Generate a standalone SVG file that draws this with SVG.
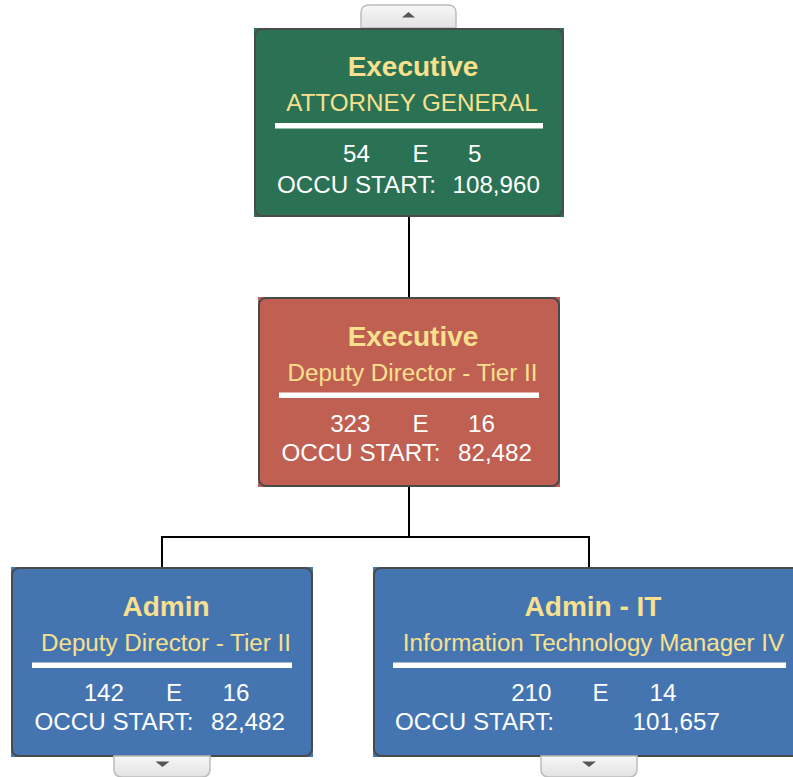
<svg xmlns="http://www.w3.org/2000/svg" width="793" height="777" viewBox="0 0 793 777">
<defs>
<linearGradient id="tabg" x1="0" y1="0" x2="0" y2="1">
<stop offset="0" stop-color="#f7f7f7"/>
<stop offset="1" stop-color="#e2e2e2"/>
</linearGradient>
</defs>
<style>
.border{fill:none;stroke:#4a4a4a;stroke-width:2}
.green{fill:#2a7253}
.red{fill:#c06053}
.blue{fill:#4575b0}
.title{font-family:"Liberation Sans",Arial,sans-serif;font-weight:bold;font-size:28px;fill:#f8e08e;text-anchor:middle}
.sub{font-family:"Liberation Sans",Arial,sans-serif;font-size:24.2px;fill:#f8e08e;text-anchor:middle}
.data{font-family:"Liberation Sans",Arial,sans-serif;font-size:24.2px;fill:#ffffff}
.end{text-anchor:end}
.rule{fill:#ffffff}
.tab{fill:url(#tabg);stroke:#bdbdbd;stroke-width:1.5}
.tri{fill:#555555}
.conn{fill:none;stroke:#000000;stroke-width:2}
</style>
<rect width="793" height="777" fill="#ffffff"/>
<g id="connectors">
<line class="conn" x1="409" y1="217" x2="409" y2="297"/>
<polyline class="conn" points="409,487 409,537 162,537 162,567"/>
<polyline class="conn" points="409,537 589,537 589,567"/>
</g>
<g id="tab-top">
<path class="tab" d="M361,28 L361,13 Q361,5 369,5 L448,5 Q456,5 456,13 L456,28 Z"/>
<polygon class="tri" points="402,17.5 415,17.5 408.5,12"/>
</g>
<g id="node-attorney-general">
<rect class="green" x="254" y="28" width="310" height="189"/>
<rect class="border" x="255" y="29" width="308" height="187" rx="7"/>
<text class="title" x="413" y="76">Executive</text>
<text class="sub" x="412" y="110.5">ATTORNEY GENERAL</text>
<rect class="rule" x="275" y="123" width="268" height="5.5"/>
<text class="data end" x="370" y="161.5">54</text>
<text class="data" x="412.5" y="161.5">E</text>
<text class="data" x="468" y="161.5">5</text>
<text class="data" x="277" y="192.5">OCCU START:</text>
<text class="data" x="452.5" y="192.5">108,960</text>
</g>
<g id="node-deputy-director">
<rect class="red" x="258" y="297" width="302" height="190"/>
<rect class="border" x="259" y="298" width="300" height="188" rx="7"/>
<text class="title" x="413" y="346">Executive</text>
<text class="sub" x="412.5" y="380.5">Deputy Director - Tier II</text>
<rect class="rule" x="279" y="392.5" width="260" height="5.5"/>
<text class="data end" x="370.5" y="431.5">323</text>
<text class="data" x="412.5" y="431.5">E</text>
<text class="data" x="468" y="431.5">16</text>
<text class="data" x="281.5" y="460.5">OCCU START:</text>
<text class="data" x="458" y="460.5">82,482</text>
</g>
<g id="node-admin">
<rect class="blue" x="11" y="567" width="302" height="190"/>
<rect class="border" x="12" y="568" width="300" height="188" rx="7"/>
<text class="title" x="166" y="616">Admin</text>
<text class="sub" x="166" y="650.5">Deputy Director - Tier II</text>
<rect class="rule" x="32" y="662.5" width="260" height="5.5"/>
<text class="data end" x="124" y="701">142</text>
<text class="data" x="166" y="701">E</text>
<text class="data" x="222.5" y="701">16</text>
<text class="data" x="34.5" y="730">OCCU START:</text>
<text class="data" x="211" y="730">82,482</text>
</g>
<g id="tab-admin">
<path class="tab" d="M114,756 L114,769 Q114,777 122,777 L202,777 Q210,777 210,769 L210,756 Z"/>
<polygon class="tri" points="155.5,761.5 169.5,761.5 162.5,767"/>
</g>
<g id="node-admin-it">
<rect class="blue" x="373" y="567" width="440" height="190"/>
<rect class="border" x="374" y="568" width="432" height="188" rx="7"/>
<text class="title" x="593" y="616">Admin - IT</text>
<text class="sub" x="593.5" y="650.5">Information Technology Manager IV</text>
<rect class="rule" x="393" y="662.5" width="393" height="5.5"/>
<text class="data end" x="551.5" y="701">210</text>
<text class="data" x="592.5" y="701">E</text>
<text class="data" x="649.5" y="701">14</text>
<text class="data" x="395" y="730">OCCU START:</text>
<text class="data" x="632.5" y="730">101,657</text>
</g>
<g id="tab-admin-it">
<path class="tab" d="M541,756 L541,769 Q541,777 549,777 L629,777 Q637,777 637,769 L637,756 Z"/>
<polygon class="tri" points="582,761.5 596,761.5 589,767"/>
</g>
</svg>
